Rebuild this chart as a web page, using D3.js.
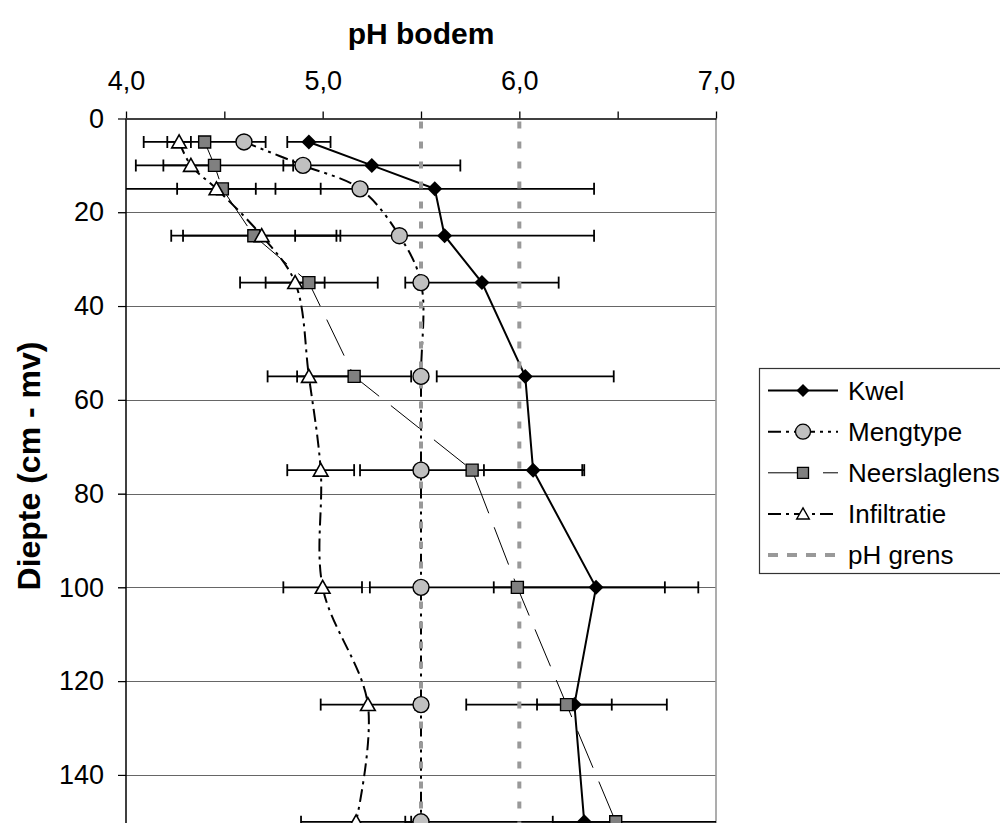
<!DOCTYPE html>
<html>
<head>
<meta charset="utf-8">
<script src="https://cdn.jsdelivr.net/npm/d3@7"></script>
<style>
  html, body { margin: 0; padding: 0; background: #fff; overflow: hidden; }
  svg { display: block; font-family: "Liberation Sans", Arial, sans-serif; }
  svg text { font-family: "Liberation Sans", Arial, sans-serif; }
</style>
</head>
<body>
<svg id="chart" width="1000" height="823"></svg>
<script>
// Depth of each sample (cm below surface)
const depths = [5, 10, 15, 25, 35, 55, 75, 100, 125, 150];

// Mean soil pH per depth for each profile type, with error (± pH)
const kwelPH   = [4.93, 5.25, 5.57, 5.62, 5.81, 6.03, 6.07, 6.39, 6.28, 6.33];
const kwelErr  = [0.11, 0.45, 0.81, 0.76, 0.39, 0.45, 0.25, 0.52, 0.19, 0.16];
const mengPH   = [4.60, 4.90, 5.19, 5.39, 5.50, 5.50, 5.50, 5.50, 5.50, 5.50];
const neerPH   = [4.40, 4.45, 4.49, 4.65, 4.93, 5.16, 5.76, 5.99, 6.24, 6.49];
const neerErr  = [0.31, 0.40, 0.50, 0.42, 0.35, 0.29, 0.57, 0.75, 0.51, 1.07];
const infPH    = [4.27, 4.33, 4.46, 4.69, 4.86, 4.93, 4.99, 5.00, 5.23, 5.17];
const infErr   = [0.06, 0.14, 0.20, 0.40, 0.15, 0.21, 0.17, 0.20, 0.24, 0.28];

// pH threshold lines
const phGrens = [5.5, 6.0];

// Axis ticks
const xMajorTicks = [4.0, 5.0, 6.0, 7.0];
const xMinorTicks = [4.5, 5.5, 6.5];
const yTicks = [0, 20, 40, 60, 80, 100, 120, 140];
const gridDepths = [20, 40, 60, 80, 100, 120, 140];

const seriesNames = ["Kwel", "Mengtype", "Neerslaglens", "Infiltratie", "pH grens"];

const svg = d3.select("#chart");
const fmt = d3.format(".1f");
const comma = v => fmt(v).replace(".", ",");

const x = d3.scaleLinear().domain([4, 7]).range([126, 716]);
const y = d3.scaleLinear().domain([0, 150]).range([118.5, 821.8]);

const plotLeft = x(4), plotRight = x(7), plotTop = y(0);

svg.append("defs").append("clipPath").attr("id", "plotclip")
  .append("rect").attr("x", plotLeft).attr("y", plotTop - 20)
  .attr("width", plotRight - plotLeft).attr("height", 900);

// Horizontal gridlines (extend a little left of the axis as tick marks)
svg.append("g").selectAll("line").data(gridDepths).join("line")
  .attr("x1", plotLeft - 8).attr("x2", plotRight)
  .attr("y1", d => Math.round(y(d)) + 0.5).attr("y2", d => Math.round(y(d)) + 0.5)
  .attr("stroke", "#666").attr("stroke-width", 1);

// Right border of the plot area
svg.append("line")
  .attr("x1", plotRight).attr("x2", plotRight)
  .attr("y1", plotTop).attr("y2", 823)
  .attr("stroke", "#999").attr("stroke-width", 1.6);

// Top (pH) axis
const xAxis = d3.axisTop(x).tickValues(xMajorTicks).tickSize(7).tickSizeOuter(0).tickFormat(comma);
const gx = svg.append("g").attr("transform", `translate(0,${plotTop})`).call(xAxis);
gx.select(".domain").attr("stroke", "#000").attr("stroke-width", 1.5);
gx.selectAll(".tick line").attr("stroke", "#000").attr("stroke-width", 1.3);
gx.selectAll(".tick text").attr("font-size", 27).attr("fill", "#000")
  .attr("y", 90 - plotTop).attr("dy", 0);
const xMinor = d3.axisTop(x).tickValues(xMinorTicks).tickSize(7).tickFormat("");
const gxm = svg.append("g").attr("transform", `translate(0,${plotTop})`).call(xMinor);
gxm.select(".domain").remove();
gxm.selectAll(".tick line").attr("stroke", "#000").attr("stroke-width", 1.3);

// Left (depth) axis
const yAxis = d3.axisLeft(y).tickValues(yTicks).tickSize(8).tickSizeOuter(0).tickFormat(d3.format("d"));
const gy = svg.append("g").attr("transform", `translate(${plotLeft},0)`).call(yAxis);
gy.select(".domain").attr("stroke", "#000").attr("stroke-width", 1.5)
  .attr("d", `M0,${plotTop}V823`);
gy.selectAll(".tick line").attr("stroke", "#000").attr("stroke-width", 1.2);
gy.selectAll(".tick text").attr("font-size", 27).attr("fill", "#000").attr("x", -22);

// Axis titles
svg.append("text").attr("x", (plotLeft + plotRight) / 2).attr("y", 44)
  .attr("text-anchor", "middle").attr("font-size", 30).attr("font-weight", "bold")
  .text("pH bodem");
svg.append("text")
  .attr("transform", `translate(40,${466}) rotate(-90)`)
  .attr("text-anchor", "middle").attr("font-size", 32).attr("font-weight", "bold")
  .text("Diepte (cm - mv)");

const mk = (ph, err) => depths.map((d, i) => ({ d, v: ph[i], e: err ? err[i] : 0 }));
const kwel = mk(kwelPH, kwelErr);
const meng = mk(mengPH, null);
const neer = mk(neerPH, neerErr);
const inf = mk(infPH, infErr);

// Horizontal error bars with end caps
function errorBars(data) {
  const g = svg.append("g").attr("clip-path", "url(#plotclip)")
    .attr("stroke", "#000").attr("stroke-width", 1.8).attr("fill", "none");
  data.forEach(p => {
    const x0 = x(p.v - p.e), x1 = x(p.v + p.e), yy = y(p.d);
    g.append("line").attr("x1", x0).attr("x2", x1).attr("y1", yy).attr("y2", yy);
    [x0, x1].forEach(xc => g.append("line").attr("x1", xc).attr("x2", xc)
      .attr("y1", yy - 6).attr("y2", yy + 6));
  });
}
errorBars(kwel);
errorBars(neer);
errorBars(inf);

// Series lines
const lineStraight = d3.line().x(p => x(p.v)).y(p => y(p.d));
const lineSmooth = d3.line().x(p => x(p.v)).y(p => y(p.d)).curve(d3.curveCatmullRom.alpha(0.5));

svg.append("path").datum(kwel).attr("d", lineStraight)
  .attr("fill", "none").attr("stroke", "#000").attr("stroke-width", 2);
svg.append("path").datum(meng).attr("d", lineSmooth)
  .attr("fill", "none").attr("stroke", "#000").attr("stroke-width", 2)
  .attr("stroke-dasharray", "13,5,3,5,3,5");
svg.append("path").datum(neer).attr("d", lineStraight)
  .attr("fill", "none").attr("stroke", "#000").attr("stroke-width", 1)
  .attr("stroke-dasharray", "40,15");
svg.append("path").datum(inf).attr("d", lineSmooth)
  .attr("fill", "none").attr("stroke", "#000").attr("stroke-width", 2)
  .attr("stroke-dasharray", "13,5,3,5");

// pH threshold lines
svg.append("g").selectAll("line").data(phGrens).join("line")
  .attr("x1", d => x(d)).attr("x2", d => x(d))
  .attr("y1", plotTop + 3).attr("y2", 823)
  .attr("stroke", "#999").attr("stroke-width", 4)
  .attr("stroke-dasharray", "7,13");

// Marker shapes
const diamond = s => `M0,${-s}L${s},0L0,${s}L${-s},0Z`;
const square = s => `M${-s},${-s}H${s}V${s}H${-s}Z`;
const triangle = s => `M0,${-s}L${s * 1.05},${s * 0.85}H${-s * 1.05}Z`;

function markers(data, draw) {
  const g = svg.append("g");
  data.forEach(p => draw(g.append("g").attr("transform", `translate(${x(p.v)},${y(p.d)})`)));
}
markers(kwel, g => g.append("path").attr("d", diamond(7.5)).attr("fill", "#000"));
markers(meng, g => g.append("circle").attr("r", 8).attr("fill", "#c0c0c0")
  .attr("stroke", "#000").attr("stroke-width", 1.4));
markers(neer, g => g.append("path").attr("d", square(6)).attr("fill", "#808080")
  .attr("stroke", "#000").attr("stroke-width", 1.4));
markers(inf, g => g.append("path").attr("d", triangle(7)).attr("fill", "#fff")
  .attr("stroke", "#000").attr("stroke-width", 1.6));

// Legend
const lg = svg.append("g");
const lgLeft = 759, lgTop = 368, lgRow = 41.1;
lg.append("rect").attr("x", lgLeft + 0.5).attr("y", lgTop + 0.5)
  .attr("width", 400).attr("height", 205)
  .attr("fill", "#fff").attr("stroke", "#333").attr("stroke-width", 1.2);

const sx0 = 768, sx1 = 838, smid = (sx0 + sx1) / 2;
const legendStyles = [
  { stroke: "#000", w: 2, dash: null, mark: g => g.append("path").attr("d", diamond(6.5)).attr("fill", "#000") },
  { stroke: "#000", w: 2, dash: "13,5,3,5,3,5", mark: g => g.append("circle").attr("r", 7.5).attr("fill", "#c0c0c0").attr("stroke", "#000").attr("stroke-width", 1.3) },
  { stroke: "#000", w: 1, dash: "40,15", mark: g => g.append("path").attr("d", square(5.5)).attr("fill", "#808080").attr("stroke", "#000").attr("stroke-width", 1.3) },
  { stroke: "#000", w: 2, dash: "13,5,3,5", mark: g => g.append("path").attr("d", triangle(6)).attr("fill", "#fff").attr("stroke", "#000").attr("stroke-width", 1.4) },
  { stroke: "#999", w: 4, dash: "10,9", mark: null }
];
seriesNames.forEach((name, i) => {
  const yy = lgTop + 22.6 + i * lgRow;
  const st = legendStyles[i];
  const ln = lg.append("line").attr("x1", sx0).attr("x2", sx1).attr("y1", yy).attr("y2", yy)
    .attr("stroke", st.stroke).attr("stroke-width", st.w);
  if (st.dash) ln.attr("stroke-dasharray", st.dash);
  if (st.mark) st.mark(lg.append("g").attr("transform", `translate(${smid},${yy})`));
  lg.append("text").attr("x", 848).attr("y", yy).attr("dy", "0.36em")
    .attr("font-size", 26).attr("fill", "#000").text(name);
});
</script>
</body>
</html>
